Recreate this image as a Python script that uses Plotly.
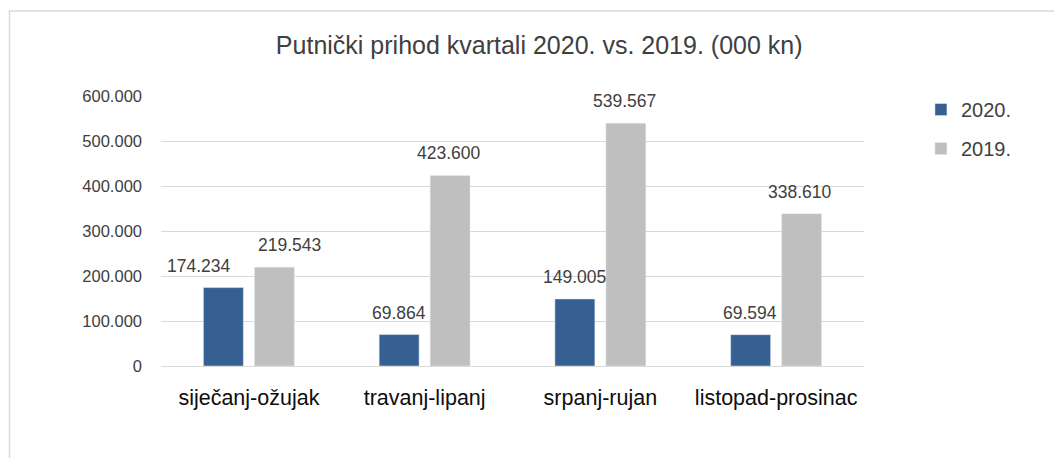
import plotly.graph_objs as go

quarters = ['siječanj-ožujak', 'travanj-lipanj', 'srpanj-rujan', 'listopad-prosinac']
prihod_2020 = [174234, 69864, 149005, 69594]
prihod_2019 = [219543, 423600, 539567, 338610]
y_ticks = [0, 100000, 200000, 300000, 400000, 500000, 600000]

FONT = 'Liberation Sans, Arial, sans-serif'
TEXT = '#404040'

# horizontal nudges (px) of the value labels relative to category centre
shift_2020 = [-50, -26, -26, -26]
shift_2019 = [41, 24, 24, 24]

fig = go.Figure()
fig.add_trace(go.Bar(x=quarters, y=prihod_2020, name='2020.',
                     marker=dict(color='#376092'), legendgroup='a'))
fig.add_trace(go.Bar(x=quarters, y=prihod_2019, name='2019.',
                     marker=dict(color='#bfbfbf'), legendgroup='b'))

# value labels (thousands separated by dots)
annotations = []
for vals, shifts in [(prihod_2020, shift_2020), (prihod_2019, shift_2019)]:
    for q, v, s in zip(quarters, vals, shifts):
        annotations.append(dict(
            x=q, y=v, xref='x', yref='y', text=f'{v:,}'.replace(',', '.'),
            showarrow=False, xanchor='center', yanchor='bottom',
            xshift=s, yshift=10, font=dict(size=17.5, color=TEXT)))

fig.update_layout(
    width=1054, height=450,
    margin=dict(l=153, r=198, t=88, b=92),
    separators=',.',
    font=dict(family=FONT, color=TEXT),
    title=dict(text='Putnički prihod kvartali 2020. vs. 2019. (000 kn)',
               x=0.504, xanchor='center', y=0.918, yanchor='middle',
               font=dict(size=25, color=TEXT)),
    barmode='group', bargap=0.42, bargroupgap=0.216,
    plot_bgcolor='white',
    paper_bgcolor='white',
    xaxis=dict(showgrid=False, showline=False, ticks='', ticklabelstandoff=16,
               tickfont=dict(size=21.5, color='#0d0d0d')),
    yaxis=dict(range=[0, 600000], tickvals=y_ticks, tickformat=',d',
               gridcolor='#d9d9d9', gridwidth=1.3, zeroline=True,
               zerolinecolor='#d9d9d9', zerolinewidth=1.3, showline=False,
               ticks='', ticklabelstandoff=18,
               tickfont=dict(size=16.5, color=TEXT)),
    legend=dict(x=1.081, y=1.022, xanchor='left', yanchor='top',
                font=dict(size=20, color=TEXT), traceorder='grouped',
                tracegroupgap=10, itemwidth=30),
    annotations=annotations,
    shapes=[dict(type='rect', xref='paper', yref='paper',
                 x0=-0.2155, x1=1.29, y0=-0.4, y1=1.315,
                 line=dict(color='#d9d9d9', width=1.5), layer='below')],
)

fig.write_html("out.html")
